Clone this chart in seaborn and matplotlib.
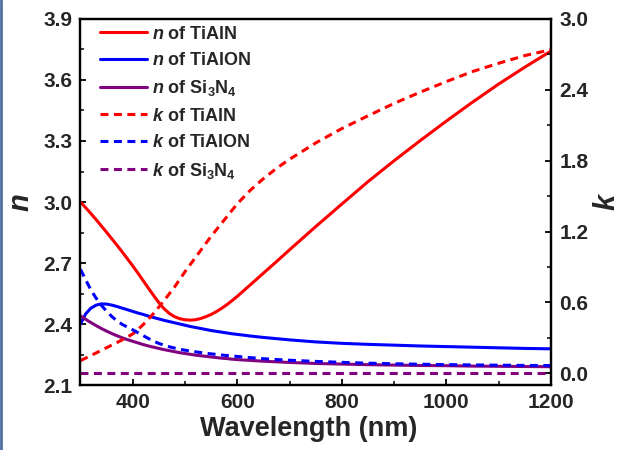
import matplotlib
matplotlib.use("Agg")
import matplotlib.pyplot as plt
from matplotlib.lines import Line2D
from matplotlib.ticker import MultipleLocator, FormatStrFormatter
import seaborn as sns

# Wavelength grid (nm) and optical constants
wavelength = [300, 310, 320, 330, 340, 350, 360, 370, 380, 390,
              400, 410, 420, 430, 440, 450, 460, 470, 480, 490,
              500, 510, 520, 530, 540, 550, 560, 570, 580, 590,
              600, 625, 650, 675, 700, 750, 800, 850, 900, 950, 1000, 1050,
              1100, 1150, 1200]

n_tialn = [3.000, 2.972, 2.943, 2.913, 2.882, 2.851, 2.819, 2.787, 2.754, 2.720,
           2.686, 2.650, 2.613, 2.576, 2.540, 2.505, 2.475, 2.452, 2.436, 2.426,
           2.421, 2.419, 2.421, 2.427, 2.436, 2.447, 2.461, 2.477, 2.495, 2.515,
           2.536, 2.593, 2.650, 2.707, 2.765, 2.879, 2.990, 3.100, 3.203, 3.302,
           3.398, 3.491, 3.580, 3.663, 3.742]
n_tialon = [2.400, 2.450, 2.478, 2.493, 2.499, 2.498, 2.493, 2.486, 2.478, 2.470,
            2.462, 2.454, 2.447, 2.439, 2.432, 2.425, 2.418, 2.412, 2.406, 2.400,
            2.394, 2.388, 2.383, 2.378, 2.373, 2.368, 2.364, 2.360, 2.356, 2.352,
            2.349, 2.341, 2.334, 2.328, 2.322, 2.312, 2.305, 2.300, 2.296, 2.292,
            2.289, 2.286, 2.283, 2.280, 2.278]
n_si3n4 = [2.440, 2.423, 2.407, 2.392, 2.378, 2.365, 2.353, 2.342, 2.332, 2.323,
           2.315, 2.307, 2.299, 2.292, 2.286, 2.280, 2.274, 2.269, 2.264, 2.259,
           2.255, 2.251, 2.247, 2.244, 2.241, 2.238, 2.235, 2.232, 2.230, 2.227,
           2.225, 2.221, 2.217, 2.214, 2.211, 2.206, 2.203, 2.200, 2.198, 2.196,
           2.195, 2.193, 2.192, 2.191, 2.190]

k_tialn = [0.107, 0.128, 0.150, 0.172, 0.194, 0.216, 0.238, 0.260, 0.283, 0.307,
           0.333, 0.370, 0.412, 0.458, 0.507, 0.560, 0.616, 0.673, 0.730, 0.795,
           0.860, 0.920, 0.980, 1.040, 1.100, 1.160, 1.215, 1.270, 1.325, 1.380,
           1.435, 1.550, 1.648, 1.735, 1.812, 1.950, 2.072, 2.180, 2.285, 2.380,
           2.470, 2.555, 2.625, 2.690, 2.740]
k_tialon = [0.880, 0.790, 0.705, 0.635, 0.575, 0.525, 0.480, 0.443, 0.413, 0.390,
            0.368, 0.343, 0.318, 0.294, 0.271, 0.252, 0.237, 0.224, 0.213, 0.203,
            0.195, 0.188, 0.181, 0.175, 0.169, 0.164, 0.159, 0.154, 0.150, 0.146,
            0.142, 0.132, 0.123, 0.116, 0.110, 0.100, 0.092, 0.085, 0.080, 0.076,
            0.073, 0.070, 0.068, 0.066, 0.065]
k_si3n4 = [0.0] * len(wavelength)

sns.set_style("ticks")
plt.rcParams["font.family"] = ["Liberation Sans", "DejaVu Sans"]
plt.rcParams["font.weight"] = "bold"
plt.rcParams["mathtext.fontset"] = "custom"
plt.rcParams["mathtext.rm"] = "Liberation Sans:bold"
plt.rcParams["mathtext.it"] = "Liberation Sans:italic:bold"
plt.rcParams["mathtext.bf"] = "Liberation Sans:bold"

fig = plt.figure(figsize=(6.19, 4.5), dpi=100)
ax = fig.add_axes([0.130, 0.1444, 0.760, 0.8134])
ax2 = ax.twinx()

lw = 2.2
dash = (0, (2.6, 1.8))

# n curves (left axis)
sns.lineplot(x=wavelength, y=n_tialn, ax=ax, color="#FF0000", lw=lw,
             legend=False, label=r"$n$ of TiAlN")
sns.lineplot(x=wavelength, y=n_tialon, ax=ax, color="#0000FF", lw=lw,
             legend=False, label=r"$n$ of TiAlON")
sns.lineplot(x=wavelength, y=n_si3n4, ax=ax, color="#800080", lw=lw,
             legend=False, label=r"$n$ of Si$_{3}$N$_{4}$")

# k curves (right axis)
sns.lineplot(x=wavelength, y=k_tialn, ax=ax2, color="#FF0000", lw=lw,
             linestyle=dash, legend=False, label=r"$k$ of TiAlN")
sns.lineplot(x=wavelength, y=k_tialon, ax=ax2, color="#0000FF", lw=lw,
             linestyle=dash, legend=False, label=r"$k$ of TiAlON")
sns.lineplot(x=wavelength, y=k_si3n4, ax=ax2, color="#800080", lw=lw,
             linestyle=dash, legend=False, label=r"$k$ of Si$_{3}$N$_{4}$")

ax.set_xlim(300, 1200)
ax.set_ylim(2.1, 3.9)
ax2.set_ylim(-0.1, 3.0)

ax.xaxis.set_major_locator(MultipleLocator(200))
ax.xaxis.set_minor_locator(MultipleLocator(100))
ax.yaxis.set_major_locator(MultipleLocator(0.3))
ax.yaxis.set_minor_locator(MultipleLocator(0.15))
ax2.yaxis.set_major_locator(MultipleLocator(0.6))
ax2.yaxis.set_minor_locator(MultipleLocator(0.3))
ax.set_xticks([400, 600, 800, 1000, 1200])
ax.set_yticks([2.1, 2.4, 2.7, 3.0, 3.3, 3.6, 3.9])
ax.yaxis.set_major_formatter(FormatStrFormatter("%.1f"))
ax2.yaxis.set_major_formatter(FormatStrFormatter("%.1f"))

for a in (ax, ax2):
    a.tick_params(which="major", direction="in", length=4.5, width=1.3,
                  labelsize=15, pad=6, color="black")
    a.tick_params(which="minor", direction="in", length=2.8, width=1.1,
                  color="black")
    for s in a.spines.values():
        s.set_visible(True)
        s.set_linewidth(1.6)
        s.set_color("black")
ax.tick_params(axis="y", which="both", right=False)
ax.tick_params(axis="x", which="both", top=False)
ax2.tick_params(axis="y", which="both", left=False)

ax.set_xlabel("Wavelength (nm)", fontsize=19.5, fontweight="bold", labelpad=6)
ax.xaxis.set_label_coords(0.485, -0.085)
ax.xaxis.label.set_va("top")
ax.set_ylabel("n", fontsize=21, fontweight="bold", style="italic")
ax.yaxis.set_label_coords(-0.097, 0.5)
ax2.set_ylabel("k", fontsize=21, fontweight="bold", style="italic",
               rotation=90)
ax2.yaxis.set_label_coords(1.088, 0.5)

h1, l1 = ax.get_legend_handles_labels()
h2, l2 = ax2.get_legend_handles_labels()
ax2.legend(h1 + h2, l1 + l2, loc="upper left",
           bbox_to_anchor=(0.0425, 0.982), frameon=False,
           fontsize=13, borderpad=0, borderaxespad=0,
           handlelength=2.6, handletextpad=0.25, labelspacing=0.52)

# slide frame edge on the left
fig.add_artist(Line2D([0.0024, 0.0024], [0, 1], transform=fig.transFigure,
                      color="#4F6FA0", lw=2))

fig.savefig("out.png", dpi=100)
